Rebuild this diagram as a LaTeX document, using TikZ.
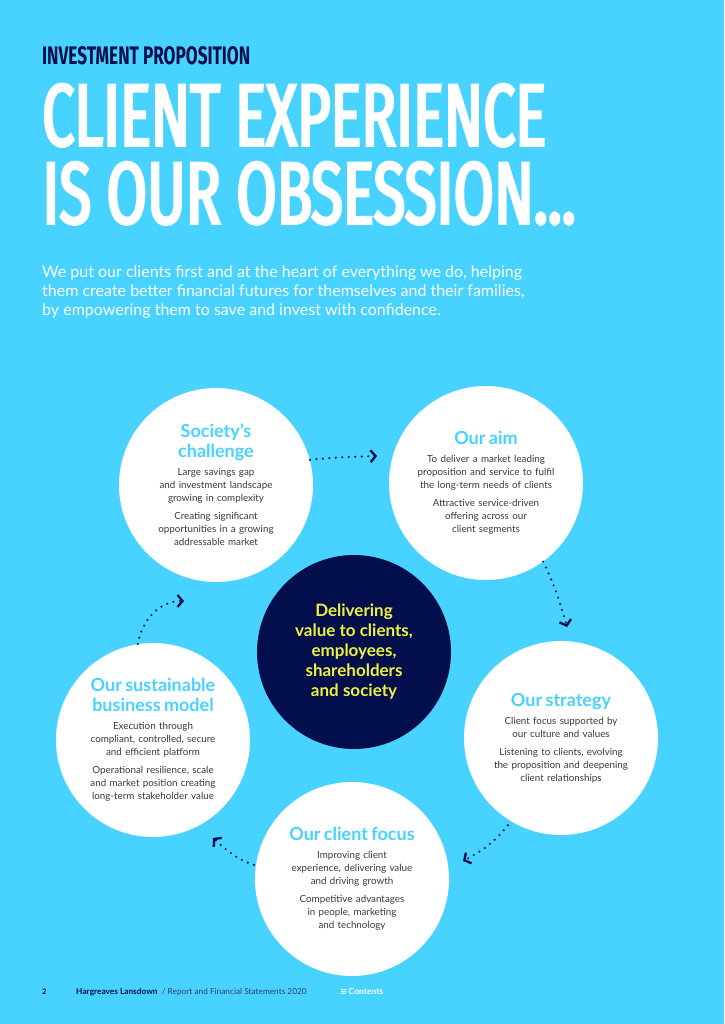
\documentclass[tikz,border=0pt]{standalone}
\usepackage{fontspec}
\usepackage{graphicx}
\setmainfont{Lato}
\newfontfamily\titlefont[FakeStretch=0.5]{Fira Sans}
\newfontfamily\titleboldfont[FakeStretch=0.5, FakeBold=2.6]{Fira Sans}
\newfontfamily\symfont{DejaVu Sans}
\usetikzlibrary{arrows.meta,positioning}
\definecolor{hlsky}{HTML}{48D2FF}
\definecolor{hlnavy}{HTML}{020F4C}
\definecolor{hlyellow}{HTML}{EEF03C}
\definecolor{hlgrey}{HTML}{3A3A3A}
\newcommand{\bubblehead}[1]{{\color{hlsky}\bfseries\fontsize{18}{20}\selectfont #1\par}}
\newcommand{\bubblebody}[1]{\vspace{5pt}{\color{hlgrey}\fontsize{9.8}{13}\selectfont #1\par}}
\tikzset{
    bubble/.style={circle, fill=white, minimum size=194pt, inner sep=0pt},
    bubbletext/.style={align=center, text width=170pt, inner sep=0pt},
    flowarrow/.style={draw=hlnavy, line width=2.3pt, line cap=round,
        dash pattern=on 0pt off 6.5pt, -{Straight Barb[length=5pt,width=12pt]}}
}

\begin{document}
\begin{tikzpicture}[x=1pt, y=-1pt,
    hub/.style={circle, fill=hlnavy, minimum size=194pt, inner sep=0pt},
    hubtext/.style={align=center, text=hlyellow, inner sep=0pt,
        font=\bfseries\fontsize{17}{20}\selectfont}
]
\fill[hlsky] (0,0) rectangle (724,1024);
\useasboundingbox (0,0) rectangle (724,1024);

% heading
\node[anchor=south west, inner sep=0pt, text=hlnavy] (kicker) at (42,65)
    {\resizebox{208pt}{18pt}{\titlefont\bfseries INVESTMENT PROPOSITION}};
\node[anchor=south west, inner sep=0pt, text=white] (titlea) at (42,147)
    {\resizebox{504pt}{62pt}{\titleboldfont CLIENT EXPERIENCE}};
\node[anchor=south west, inner sep=0pt, text=white] (titleb) at (42,225)
    {\resizebox{533pt}{62pt}{\titleboldfont IS OUR OBSESSION...}};
\node[anchor=north west, inner sep=0pt, align=left, text=white,
    font=\fontsize{16}{19}\selectfont] (intro) at (42,266)
    {We put our clients first and at the heart of everything we do, helping\\
     them create better financial futures for themselves and their families,\\
     by empowering them to save and invest with confidence.};

% circles
\node[hub] (hubc) at (354,652) {};
\node[hubtext] (hubt) at (hubc) {Delivering\\value to clients,\\employees,\\shareholders\\and society};

\node[bubble] (soc) at (216,485) {};
\node[bubbletext] (soct) at (soc) {\bubblehead{Society's\\challenge}
    \bubblebody{Large savings gap\\and investment landscape\\growing in complexity}
    \bubblebody{Creating significant\\opportunities in a growing\\addressable market}};

\node[bubble] (aim) at (486,483) {};
\node[bubbletext] (aimt) at (aim) {\bubblehead{Our aim}
    \bubblebody{To deliver a market leading\\proposition and service to fulfil\\the long-term needs of clients}
    \bubblebody{Attractive service-driven\\offering across our\\client segments}};

\node[bubble] (strat) at (561,738) {};
\node[bubbletext] (stratt) at (strat) {\bubblehead{Our strategy}
    \bubblebody{Client focus supported by\\our culture and values}
    \bubblebody{Listening to clients, evolving\\the proposition and deepening\\client relationships}};

\node[bubble] (focus) at (352,879) {};
\node[bubbletext] (focust) at (focus) {\bubblehead{Our client focus}
    \bubblebody{Improving client\\experience, delivering value\\and driving growth}
    \bubblebody{Competitive advantages\\in people, marketing\\and technology}};

\node[bubble] (model) at (153,740) {};
\node[bubbletext] (modelt) at (model) {\bubblehead{Our sustainable\\business model}
    \bubblebody{Execution through\\compliant, controlled, secure\\and efficient platform}
    \bubblebody{Operational resilience, scale\\and market position creating\\long-term stakeholder value}};

% dotted flow round the ring
\coordinate (aimin) at (377,456);
\coordinate (stratin) at (567,627);
\coordinate (focusin) at (463,861);
\coordinate (modelin) at (213,838);
\coordinate (socin) at (184,601);
\draw[flowarrow] (soc.15) to[out=6, in=182] (aimin);
\draw[flowarrow] (aim.-54) to[out=-64, in=106] (stratin);
\draw[flowarrow, shorten <=5pt] (strat.-121) to[out=-128, in=28] (focusin);
\draw[flowarrow, shorten <=2pt] (focus.172) to[out=162, in=-42] (modelin);
\draw[flowarrow] (model.99) to[out=80, in=180] (socin);

% footer
\node[anchor=base west, inner sep=0pt, text=hlnavy,
    font=\bfseries\fontsize{7.5}{8}\selectfont] (pageno) at (42,994) {2};
\node[anchor=base west, inner sep=0pt, text=hlnavy!80,
    font=\fontsize{8.3}{9}\selectfont] (running) at (76,994)
    {\textcolor{hlnavy}{\bfseries Hargreaves Lansdown} \ /\ Report and Financial Statements 2020};
\node[anchor=base west, inner sep=0pt, text=white,
    font=\bfseries\fontsize{8.5}{9}\selectfont] (contents) at (340,994)
    {{\symfont ≡}\,Contents};
\end{tikzpicture}
\end{document}
